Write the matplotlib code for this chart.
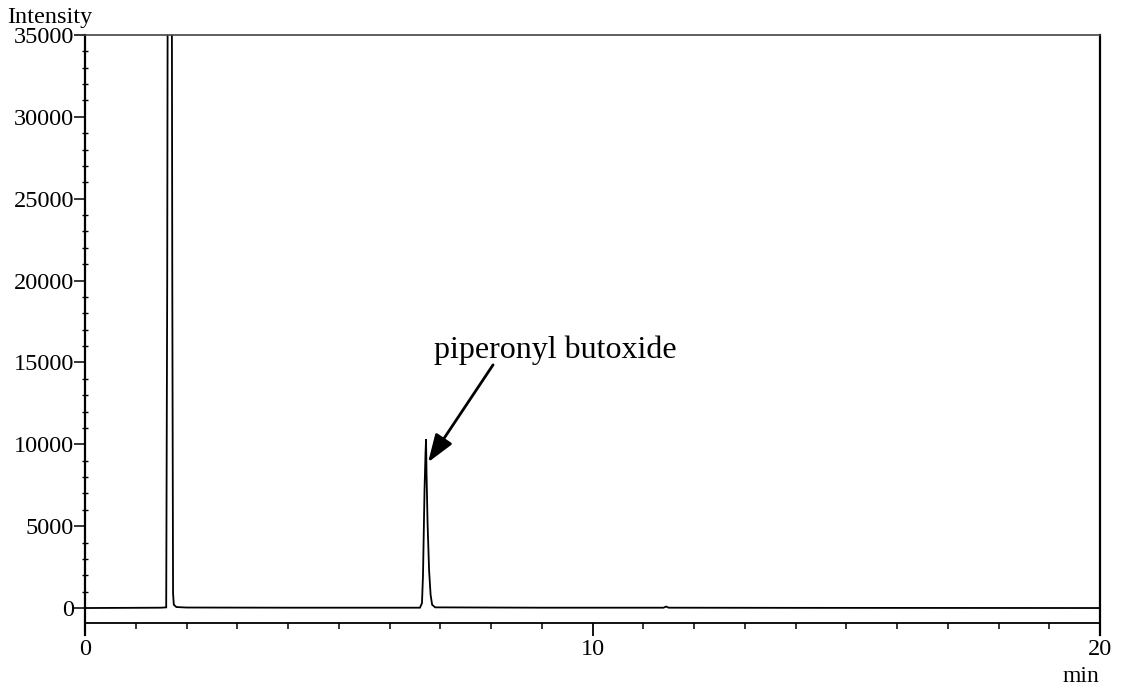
import matplotlib
matplotlib.use("Agg")
import matplotlib.pyplot as plt
from matplotlib.ticker import MultipleLocator, FixedLocator

# ---- data ----
time_min = [0.00, 0.80, 1.50, 1.60, 1.62, 1.64, 1.70, 1.72, 1.735, 1.75, 1.80, 2.00,
            4.00, 6.60, 6.64, 6.66, 6.69, 6.71, 6.72, 6.73, 6.75, 6.78, 6.81, 6.84, 6.90,
            9.00, 11.40, 11.45, 11.50, 14.00, 20.00]
intensity = [0, 10, 20, 40, 20000, 60000, 60000, 20000, 900, 200, 60, 30,
             20, 20, 300, 2000, 7200, 9500, 10300, 8200, 5200, 2300, 800, 200, 40,
             20, 20, 90, 20, 10, 0]

x_ticks_major = [0, 10, 20]
x_tick_labels = ["0", "10", "20"]
y_ticks_major = [0, 5000, 10000, 15000, 20000, 25000, 30000, 35000]
y_tick_labels = ["0", "5000", "10000", "15000", "20000", "25000", "30000", "35000"]

annotation_text = "piperonyl butoxide"
annotation_text_pos = (9.26, 15760)
arrow_start = (8.04, 14850)
arrow_tip = (6.76, 8900)

W, H = 1121, 688
fig = plt.figure(figsize=(W / 100, H / 100), dpi=100)
plt.rcParams['font.family'] = ['Liberation Serif', 'DejaVu Serif']

ax_left, ax_right, ax_top, ax_bottom = 85, 1100, 35, 623
ax = fig.add_axes([ax_left / W, (H - ax_bottom) / H,
                   (ax_right - ax_left) / W, (ax_bottom - ax_top) / H])

ax.plot(time_min, intensity, color='black', lw=1.3, solid_joinstyle='miter')

ax.set_xlim(0, 20)
ax.set_ylim(-915, 35000)

# spines
for s in ['left', 'right']:
    ax.spines[s].set_visible(False)
ax.spines['top'].set_color('#444444')
ax.spines['top'].set_linewidth(1.2)
ax.spines['bottom'].set_linewidth(1.3)
ext = -12 / (ax_bottom - ax_top)
ax.plot([0, 0], [1, ext], transform=ax.transAxes, color='black', lw=1.6, clip_on=False)
ax.plot([1, 1], [1, ext], transform=ax.transAxes, color='black', lw=1.6, clip_on=False)

# ticks
px = 0.72
ax.xaxis.set_major_locator(FixedLocator(x_ticks_major))
ax.set_xticklabels(x_tick_labels)
ax.xaxis.set_minor_locator(MultipleLocator(1))
ax.tick_params(axis='x', which='major', direction='out', length=13 * px, width=1.3,
               labelsize=17.5, pad=2)
ax.tick_params(axis='x', which='minor', direction='out', length=6 * px, width=1.1)

ax.yaxis.set_major_locator(FixedLocator(y_ticks_major))
ax.set_yticklabels(y_tick_labels)
ax.yaxis.set_minor_locator(MultipleLocator(1000))
ax.tick_params(axis='y', which='major', direction='out', length=11 * px, width=1.1,
               labelsize=17.5, pad=0)
ax.tick_params(axis='y', which='minor', direction='inout', length=6 * px, width=1.0)

# axis captions
fig.text(7 / W, 1 - 17 / H, "Intensity", fontsize=17.5, ha='left', va='center')
fig.text(1099 / W, 1 - 677 / H, "min", fontsize=17, ha='right', va='center')

# annotation
ax.text(*annotation_text_pos, annotation_text, fontsize=23, ha='center', va='center')
ax.annotate('', xy=arrow_tip, xytext=arrow_start,
            arrowprops=dict(arrowstyle='-|>,head_length=0.85,head_width=0.3',
                            mutation_scale=20, lw=2.0, color='black',
                            facecolor='#d0d0d0', shrinkA=0, shrinkB=0))

fig.savefig("out.png", dpi=100)
